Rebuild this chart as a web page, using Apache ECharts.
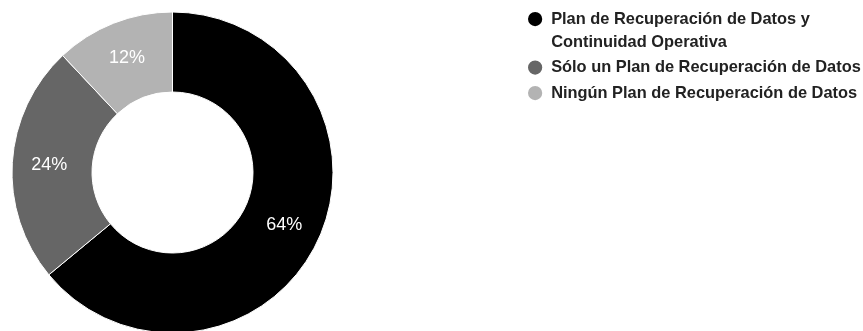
<!DOCTYPE html>
<html>
<head>
<meta charset="utf-8">
<script src="https://cdn.jsdelivr.net/npm/echarts@6/dist/echarts.min.js"></script>
<style>
html,body{margin:0;padding:0;background:#fff;}
#chart{width:863px;height:331px;}
</style>
</head>
<body>
<div id="chart"></div>
<script>
const categories = [
  'Plan de Recuperación de Datos y\nContinuidad Operativa',
  'Sólo un Plan de Recuperación de Datos',
  'Ningún Plan de Recuperación de Datos'
];
const values = [64, 24, 12];
const colors = ['#000000', '#666666', '#b3b3b3'];

const chart = echarts.init(document.getElementById('chart'), null, {renderer: 'canvas'});
const option = {
  animation: false,
  backgroundColor: '#ffffff',
  color: colors,
  legend: {
    orient: 'vertical',
    left: 521,
    top: -20.5,
    icon: 'circle',
    itemWidth: 22,
    itemHeight: 16.25,
    itemGap: 2.5,
    selectedMode: false,
    formatter: function (name) {
      return name.indexOf('\n') >= 0 ? '\n' + name : name;
    },
    textStyle: {
      fontFamily: 'Liberation Sans, Arial, sans-serif',
      fontSize: 16.4,
      fontWeight: 'bold',
      color: '#222222',
      lineHeight: 23
    },
    data: categories
  },
  series: [{
    type: 'pie',
    center: [172.5, 172.5],
    radius: [80.5, 160.5],
    startAngle: 90,
    clockwise: true,
    avoidLabelOverlap: false,
    itemStyle: {borderColor: '#ffffff', borderWidth: 1},
    label: {
      show: true,
      position: 'inside',
      formatter: '{d}%',
      color: '#ffffff',
      fontFamily: 'Liberation Sans, Arial, sans-serif',
      fontSize: 18
    },
    labelLine: {show: false},
    emphasis: {disabled: true},
    data: categories.map(function (c, i) { return {name: c, value: values[i]}; })
  }]
};
chart.setOption(option);
</script>
</body>
</html>
